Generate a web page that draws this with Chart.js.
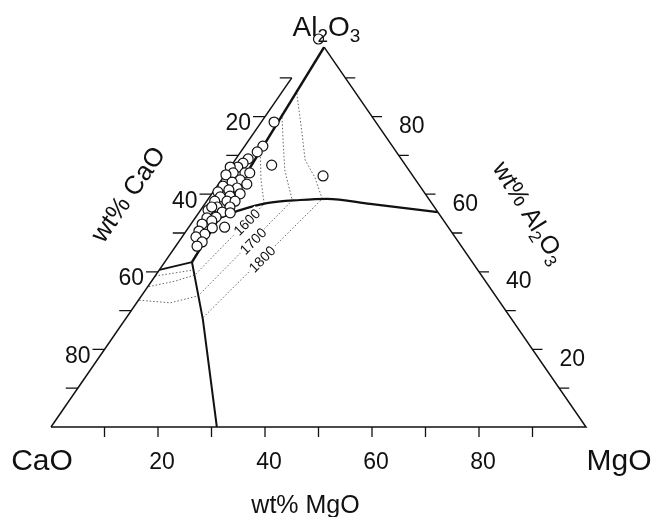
<!DOCTYPE html>
<html>
<head>
<meta charset="utf-8">
<script src="https://cdn.jsdelivr.net/npm/chart.js@4.4.1/dist/chart.umd.min.js"></script>
<style>
  html, body { margin: 0; padding: 0; background: #fff; }
  #c { display: block; }
</style>
</head>
<body>
<canvas id="c" width="657" height="517"></canvas>
<script>
// ternary CaO - MgO - Al2O3, values in wt% (CaO = 100 - MgO - Al2O3)

// samples (open circles)
const sampleMgO = [0, 2.4, 3.4, 3.1, 7.5, 18.5, 2.3, 1.9, 1.4, 0, 3.5, 1.3, 0.2, 3.5, 2.3, 5.3, 1.1, 4.0, 2.7, 0.9, 5.3, 3.7,
  2.0, 3.8, 5.3, 1.5, 2.7, 5.1, 1.4, 4.3, 3.8, 2.2, 3.5, 2.1, 6.7, 4.5, 2.4, 3.9, 2.6, 4.4, 4.0, 5.9, 1.7, 4.4];
const sampleAl2O3 = [100, 78.6, 72.4, 70.9, 67.5, 64.7, 69.1, 68.0, 67.0, 67.0, 65.5, 65.5, 65.0, 63.7, 63.1, 62.6, 62.1, 61.6, 61.1, 60.6, 60.1, 59.5,
  59.3, 58.2, 58.2, 58.2, 56.7, 56.7, 55.9, 55.4, 54.1, 53.9, 53.1, 52.3, 51.5, 51.3, 50.5, 49.7, 49.0, 47.7, 46.6, 55.2, 56.7, 65.5];

// triangle frame
const frameMgO = [0, 100, 2.1];
const frameAl2O3 = [0, 0, 97.9];
const joinMgO = [0, 0];          // CaO-Al2O3 side
const joinAl2O3 = [0, 90];

// phase boundaries (heavy lines)
const bnd1MgO = [2.1, 5.1];
const bnd1Al2O3 = [97.9, 42.5];
const bnd2MgO = [5.1, 0];
const bnd2Al2O3 = [42.5, 40.5];
const bnd3MgO = [5.1, 14.6, 31.0];
const bnd3Al2O3 = [42.5, 27.6, 0];
const bnd4MgO = [4.65, 7.4, 11.5, 17.3, 22.2, 30.9, 44.6];
const bnd4Al2O3 = [53.9, 55.9, 57.7, 58.5, 58.8, 57.5, 55.4];

// isotherms (dotted)
const isoTemps = ["1600", "1700", "1800"];
const iso1600MgO = [3.4, 7.4, 11.1, 7.3, 4.4, 0];
const iso1600Al2O3 = [71.4, 63.7, 57.5, 39.2, 37.6, 36.1];
const iso1700MgO = [2.8, 6.8, 10.6, 14.4, 15.9, 10.6, 6.3, 0];
const iso1700Al2O3 = [80.7, 73.2, 66.2, 60.6, 58.4, 33.8, 32.0, 32.7];
const iso1800MgO = [2.4, 8.6, 13.1, 17.1, 21.3, 14.3];
const iso1800Al2O3 = [86.9, 76.5, 68.8, 64.4, 58.8, 28.1];
const isoLowMgO = [0, 4.1, 6.5];
const isoLowAl2O3 = [38.9, 39.9, 40.5];
const isoLabelMgO = [10.2, 13.8, 17.8];
const isoLabelAl2O3 = [52.8, 47.9, 43.3];

// axes
const tickSteps = [10, 20, 30, 40, 50, 60, 70, 80, 90];
const tickLabels = [20, 40, 60, 80];

const FONT = '"Liberation Sans", Arial, sans-serif';

function pts(mg, al) {
  return mg.map((m, i) => ({ x: m + al[i] / 2, y: al[i] }));
}

function line(mg, al, width, color, dash, extra) {
  return Object.assign({
    data: pts(mg, al),
    showLine: true,
    borderColor: color,
    borderWidth: width,
    borderDash: dash || [],
    pointRadius: 0,
    fill: false,
    order: 2
  }, extra || {});
}

function drawFormula(ctx, parts, x, y, size) {
  // parts: [text, isSubscript]
  let cx = x;
  parts.forEach(p => {
    ctx.font = (p[1] ? Math.round(size * 0.68) : size) + "px " + FONT;
    ctx.fillText(p[0], cx, p[1] ? y + size * 0.22 : y);
    cx += ctx.measureText(p[0]).width;
  });
}

function formulaWidth(ctx, parts, size) {
  let w = 0;
  parts.forEach(p => {
    ctx.font = (p[1] ? Math.round(size * 0.68) : size) + "px " + FONT;
    w += ctx.measureText(p[0]).width;
  });
  return w;
}

const ternaryDecor = {
  id: "ternaryDecor",
  afterDatasetsDraw(chart) {
    const ctx = chart.ctx;
    const sx = chart.scales.x, sy = chart.scales.y;
    const P = (m, a) => [sx.getPixelForValue(m + a / 2), sy.getPixelForValue(a)];
    ctx.save();

    // ticks
    ctx.strokeStyle = "#111";
    ctx.lineWidth = 1.3;
    ctx.beginPath();
    tickSteps.forEach(v => {
      let [x, y] = P(v, 0);
      ctx.moveTo(x, y); ctx.lineTo(x, y + 10);
      [x, y] = P(0, v);
      ctx.moveTo(x, y); ctx.lineTo(x - 12, y);
      [x, y] = P(100 - v, v);
      ctx.moveTo(x, y); ctx.lineTo(x + 10, y);
    });
    ctx.stroke();

    // tick labels
    ctx.fillStyle = "#111";
    ctx.font = "23px " + FONT;
    ctx.textBaseline = "middle";
    tickLabels.forEach(v => {
      let [x, y] = P(v, 0);
      ctx.textAlign = "center";
      ctx.fillText(v, x + 4, y + 36);
      [x, y] = P(0, 100 - v);
      ctx.textAlign = "right";
      ctx.fillText(v, x - 14, y + 7);
      [x, y] = P(100 - v, v);
      ctx.textAlign = "left";
      ctx.fillText(v, x + 27, y + 10);
    });

    // isotherm labels
    ctx.font = "14px " + FONT;
    ctx.textAlign = "center";
    isoTemps.forEach((t, i) => {
      const [x, y] = P(isoLabelMgO[i], isoLabelAl2O3[i]);
      ctx.save();
      ctx.translate(x, y);
      ctx.rotate(-45 * Math.PI / 180);
      ctx.fillStyle = "#fff";
      ctx.fillRect(-17, -6, 34, 12);
      ctx.fillStyle = "#111";
      ctx.fillText(t, 0, 1);
      ctx.restore();
    });

    // corner labels
    ctx.font = "30px " + FONT;
    ctx.textAlign = "center";
    let [cx, cy] = P(0, 0);
    ctx.fillText("CaO", cx - 9, cy + 35);
    [cx, cy] = P(100, 0);
    ctx.fillText("MgO", cx + 33, cy + 35);

    ctx.textAlign = "left";
    ctx.textBaseline = "alphabetic";
    const al2o3 = [["Al", false], ["2", true], ["O", false], ["3", true]];
    [cx, cy] = P(0, 100);
    drawFormula(ctx, al2o3, cx - 26, cy - 3, 28);

    // axis titles
    ctx.textBaseline = "middle";
    ctx.textAlign = "center";
    ctx.font = "25px " + FONT;
    [cx, cy] = P(50, 0);
    ctx.fillText("wt% MgO", cx - 13, cy + 79);

    ctx.save();
    ctx.translate(129, 195);
    ctx.rotate(-55 * Math.PI / 180);
    ctx.font = "26px " + FONT;
    ctx.fillText("wt% CaO", 0, 0);
    ctx.restore();

    ctx.save();
    ctx.translate(530, 212);
    ctx.rotate(58 * Math.PI / 180);
    ctx.textAlign = "left";
    ctx.textBaseline = "alphabetic";
    const title = [["wt% Al", false], ["2", true], ["O", false], ["3", true]];
    const w = formulaWidth(ctx, title, 25);
    drawFormula(ctx, title, -w / 2, 9, 25);
    ctx.restore();

    ctx.restore();
  }
};

new Chart(document.getElementById("c"), {
  type: "scatter",
  data: {
    datasets: [
      {
        data: pts(sampleMgO, sampleAl2O3),
        pointRadius: 5,
        pointBackgroundColor: "#fff",
        pointBorderColor: "#111",
        pointBorderWidth: 1.2,
        showLine: false,
        order: 0
      },
      line(frameMgO, frameAl2O3, 1.5, "#111"),
      line(joinMgO, joinAl2O3, 1.5, "#111"),
      line(bnd1MgO, bnd1Al2O3, 2.5, "#111"),
      line(bnd2MgO, bnd2Al2O3, 2, "#111"),
      line(bnd3MgO, bnd3Al2O3, 2, "#111"),
      line(bnd4MgO, bnd4Al2O3, 2.2, "#111", null, { cubicInterpolationMode: "monotone" }),
      line(iso1600MgO, iso1600Al2O3, 0.9, "#555", [1.5, 2]),
      line(iso1700MgO, iso1700Al2O3, 0.9, "#555", [1.5, 2]),
      line(iso1800MgO, iso1800Al2O3, 0.9, "#555", [1.5, 2]),
      line(isoLowMgO, isoLowAl2O3, 0.9, "#555", [1.5, 2])
    ]
  },
  options: {
    responsive: false,
    animation: false,
    layout: { padding: 0, autoPadding: false },
    plugins: { legend: { display: false }, tooltip: { enabled: false } },
    scales: {
      x: { type: "linear", display: false, min: -9.533, max: 113.271 },
      y: { type: "linear", display: false, min: -23.196, max: 110.052 }
    }
  },
  plugins: [ternaryDecor]
});
</script>
</body>
</html>
